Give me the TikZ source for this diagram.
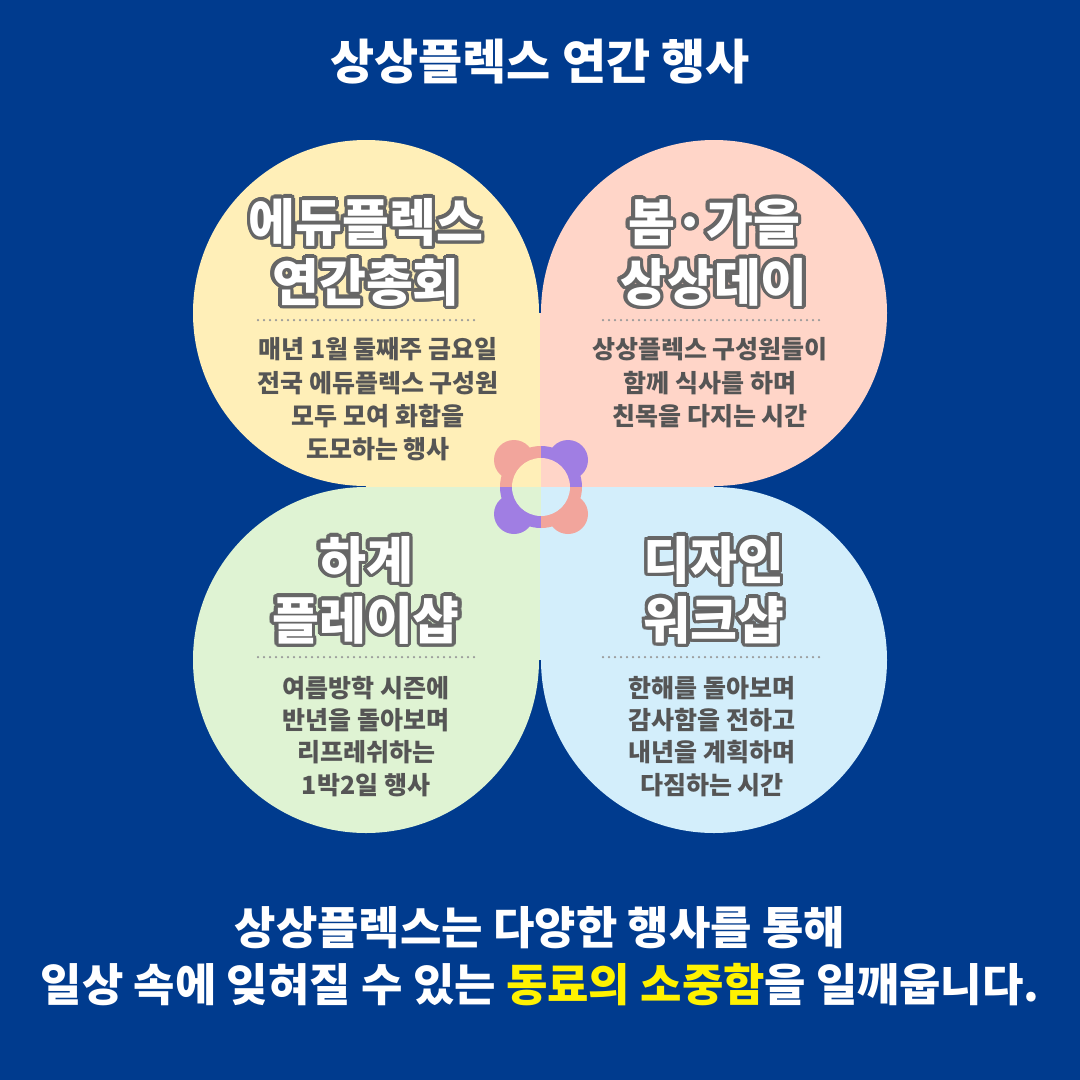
\documentclass[tikz,border=0pt]{standalone}
\usepackage{fontspec}
\setmainfont{Noto Sans CJK KR}
\usetikzlibrary{positioning}
\definecolor{navy}{HTML}{003B8E}
\definecolor{petalA}{HTML}{FFEFB8}
\definecolor{petalB}{HTML}{FFD5C8}
\definecolor{petalC}{HTML}{DFF3D3}
\definecolor{petalD}{HTML}{D3EEFB}
\definecolor{logoP}{HTML}{F2A59C}
\definecolor{logoV}{HTML}{A07EE3}
\definecolor{body}{HTML}{555555}
\definecolor{hilite}{HTML}{FFF200}
\tikzset{
    headline/.style={
           text=white,
           font=\bfseries\fontsize{48}{52}\selectfont,
           },
    petaltitle/.style={
           font=\bfseries\fontsize{51}{56}\selectfont,
           },
    petaltext/.style={
           text=body,
           font=\bfseries\fontsize{25}{28}\selectfont,
           },
    footer/.style={
           text=white,
           font=\bfseries\fontsize{45}{50}\selectfont,
           },
    sep/.style={
           draw=body!60, line width=2.5pt,
           dash pattern=on 0pt off 6pt, line cap=round,
           },
}
\newcommand{\outlined}[3]{%
\foreach \ang in {0,20,...,340}
  \node[petaltitle,text=body!90] at ([shift={(\ang:3.5)}]#1) {#3};
\node[petaltitle,text=white] (#2) at (#1) {#3};
}
\begin{document}
\begin{tikzpicture}[x=1pt,y=-1pt]
\fill[navy] (0,0) rectangle (1080,1080);
\useasboundingbox (0,0) rectangle (1080,1080);
\node[headline] (head) at (540,62) {상상플렉스 연간 행사};
% petals
\fill[petalA] (366,313) circle (173);
\fill[petalA] (366,313) rectangle (540,487);
\fill[petalB] (714,313) circle (173);
\fill[petalB] (540,313) rectangle (714,487);
\fill[petalC] (366,660) circle (173);
\fill[petalC] (366,487) rectangle (540,660);
\fill[petalD] (714,660) circle (173);
\fill[petalD] (540,487) rectangle (714,660);
% logo
\begin{scope}
\clip (490,436) rectangle (541,487);
\fill[logoP] (514,460) circle (20);
\fill[logoP] (541,487) circle (41);
\fill[petalA] (541,487) circle (29);
\end{scope}
\begin{scope}
\clip (541,436) rectangle (592,487);
\fill[logoV] (568,460) circle (20);
\fill[logoV] (541,487) circle (41);
\fill[petalB] (541,487) circle (29);
\end{scope}
\begin{scope}
\clip (490,487) rectangle (541,538);
\fill[logoV] (514,514) circle (20);
\fill[logoV] (541,487) circle (41);
\fill[petalC] (541,487) circle (29);
\end{scope}
\begin{scope}
\clip (541,487) rectangle (592,538);
\fill[logoP] (568,514) circle (20);
\fill[logoP] (541,487) circle (41);
\fill[petalD] (541,487) circle (29);
\end{scope}
% titles
\outlined{366,222}{tA1}{에듀플렉스}
\outlined{366,282}{tA2}{연간총회}
\outlined{714,222}{tB1}{봄·가을}
\outlined{714,282}{tB2}{상상데이}
\outlined{366,560}{tC1}{하계}
\outlined{366,620}{tC2}{플레이샵}
\outlined{714,560}{tD1}{디자인}
\outlined{714,620}{tD2}{워크샵}
% separators
\coordinate (sA1) at (258,320); \coordinate (sA2) at (477,320);
\coordinate (sB1) at (603,320); \coordinate (sB2) at (822,320);
\coordinate (sC1) at (258,657); \coordinate (sC2) at (477,657);
\coordinate (sD1) at (603,657); \coordinate (sD2) at (822,657);
\draw[sep] (sA1) -- (sA2);
\draw[sep] (sB1) -- (sB2);
\draw[sep] (sC1) -- (sC2);
\draw[sep] (sD1) -- (sD2);
% descriptions
\node[petaltext] (dA1) at (378,349) {매년 1월 둘째주 금요일};
\node[petaltext] (dA2) at (378,383) {전국 에듀플렉스 구성원};
\node[petaltext] (dA3) at (378,416) {모두 모여 화합을};
\node[petaltext] (dA4) at (378,449) {도모하는 행사};
\node[petaltext] (dB1) at (710,349) {상상플렉스 구성원들이};
\node[petaltext] (dB2) at (710,383) {함께 식사를 하며};
\node[petaltext] (dB3) at (710,416) {친목을 다지는 시간};
\node[petaltext] (dC1) at (366,688) {여름방학 시즌에};
\node[petaltext] (dC2) at (366,720) {반년을 돌아보며};
\node[petaltext] (dC3) at (366,752) {리프레쉬하는};
\node[petaltext] (dC4) at (366,785) {1박2일 행사};
\node[petaltext] (dD1) at (712,688) {한해를 돌아보며};
\node[petaltext] (dD2) at (712,720) {감사함을 전하고};
\node[petaltext] (dD3) at (712,752) {내년을 계획하며};
\node[petaltext] (dD4) at (712,785) {다짐하는 시간};
% footer
\node[footer] (f1) at (540,928) {상상플렉스는 다양한 행사를 통해};
\node[footer] (f2) at (540,985) {일상 속에 잊혀질 수 있는 \textcolor{hilite}{동료의 소중함}을 일깨웁니다.};
\end{tikzpicture}
\end{document}
